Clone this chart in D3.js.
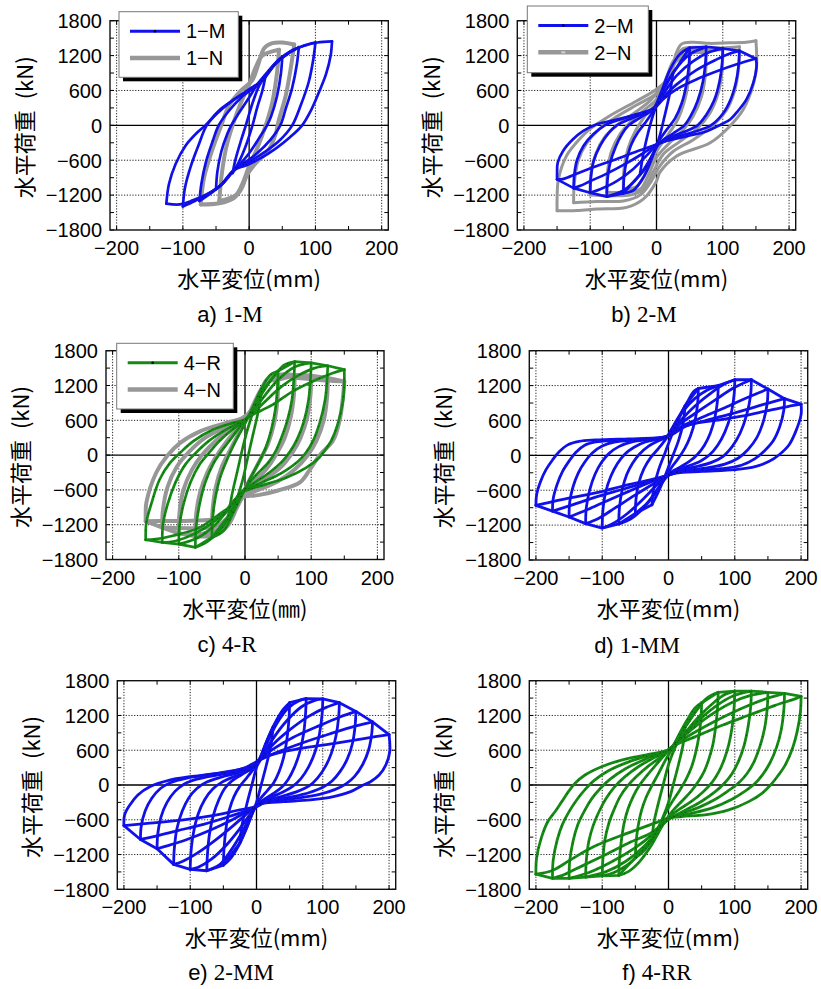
<!DOCTYPE html>
<html><head><meta charset="utf-8">
<script src="https://cdn.jsdelivr.net/npm/d3@7"></script>
<style>body{margin:0;background:#fff}svg{display:block}</style>
</head><body>
<svg id="chart" width="821" height="989"></svg>
<script>
// Axis ticks (shared by all six panels)
const xTicks = [-200, -100, 0, 100, 200];
const yTicks = [-1800, -1200, -600, 0, 600, 1200, 1800];
const xMinorTicks = [-150, -50, 50, 150];
const yMinorTicks = [-1500, -900, -300, 300, 900, 1500];

// Hysteresis loops: each loop runs from the positive peak, through the negative peak, back to the positive peak.
// [displacement (mm), load (kN)]
const loops_1M = [
  [[25,860],[20,600],[12,300],[5,0],[-5,-350],[-15,-620],[-25,-820],[-20,-560],[-12,-250],[-5,0],[5,380],[15,680],[25,860]],
  [[50,1180],[48,900],[42,500],[33,150],[27,0],[15,-220],[0,-480],[-15,-680],[-30,-850],[-40,-1000],[-50,-1100],[-48,-800],[-42,-450],[-33,-150],[-27,0],[-15,220],[0,480],[12,700],[25,880],[38,1050],[50,1180]],
  [[75,1345],[72,1050],[65,650],[55,280],[47,0],[32,-250],[12,-480],[-8,-650],[-23,-770],[-40,-1000],[-58,-1170],[-75,-1300],[-72,-1000],[-65,-620],[-55,-270],[-46,0],[-32,230],[-12,480],[8,660],[22,800],[40,1060],[58,1230],[75,1345]],
  [[100,1425],[97,1150],[90,750],[78,350],[65,0],[45,-270],[22,-470],[0,-630],[-20,-750],[-40,-1000],[-62,-1180],[-82,-1300],[-100,-1395],[-97,-1080],[-88,-700],[-76,-330],[-64,0],[-45,240],[-22,450],[0,620],[18,760],[40,1070],[62,1260],[82,1370],[100,1425]],
  [[125,1445],[123,1200],[116,880],[105,560],[93,250],[80,0],[62,-200],[40,-400],[18,-560],[-5,-690],[-22,-760],[-42,-1020],[-63,-1180],[-85,-1290],[-105,-1360],[-125,-1345],[-121,-1010],[-111,-665],[-96,-350],[-78,-120],[-66,0],[-43,280],[-18,480],[8,650],[22,800],[43,1110],[63,1280],[83,1370],[103,1425],[125,1445]]
];
const loops_1N = [
  [[45,1300],[42,900],[35,400],[25,0],[12,-400],[0,-700],[-10,-1000],[-20,-1200],[-45,-1300],[-42,-900],[-35,-400],[-25,0],[-12,400],[0,700],[10,1000],[20,1200],[45,1300]],
  [[68,1390],[63,1000],[55,500],[45,100],[40,-150],[28,-450],[10,-650],[-3,-850],[-12,-1100],[-23,-1250],[-45,-1340],[-73,-1360],[-68,-900],[-55,-400],[-42,0],[-30,350],[-12,600],[5,780],[13,1020],[23,1330],[35,1415],[50,1425],[68,1390]]
];
const loops_2M = [
  [[25,900],[20,550],[12,150],[3,-250],[-8,-550],[-18,-760],[-25,-850],[-20,-500],[-12,-100],[-3,250],[8,550],[18,780],[25,900]],
  [[50,1335],[49,1050],[45,700],[38,380],[28,120],[15,-80],[2,-300],[-8,-600],[-20,-900],[-35,-1120],[-50,-1170],[-49,-900],[-45,-600],[-38,-330],[-28,-120],[-18,30],[-5,250],[8,600],[20,950],[35,1220],[50,1335]],
  [[75,1350],[74,1100],[70,750],[62,420],[52,170],[42,0],[25,-140],[5,-300],[-8,-550],[-25,-850],[-50,-1120],[-75,-1225],[-74,-950],[-70,-650],[-62,-380],[-52,-150],[-42,0],[-25,130],[-5,280],[10,600],[28,950],[50,1220],[75,1350]],
  [[100,1320],[99,1080],[95,750],[87,430],[75,180],[62,0],[40,-120],[18,-220],[0,-340],[-15,-520],[-35,-750],[-60,-960],[-85,-1100],[-100,-1160],[-99,-900],[-95,-620],[-85,-350],[-72,-130],[-60,0],[-40,110],[-20,200],[-3,300],[10,530],[30,850],[55,1100],[80,1260],[100,1320]],
  [[125,1280],[124,1050],[120,750],[112,450],[100,200],[82,0],[60,-100],[30,-200],[0,-330],[-20,-480],[-45,-650],[-75,-830],[-100,-960],[-115,-1040],[-125,-1080],[-124,-850],[-120,-600],[-110,-350],[-95,-150],[-78,0],[-55,100],[-30,190],[-5,290],[10,480],[30,700],[60,950],[90,1130],[110,1230],[125,1280]],
  [[150,1150],[151,1020],[146,730],[136,450],[123,250],[111,100],[98,20],[76,-100],[46,-185],[15,-270],[0,-330],[-30,-450],[-60,-580],[-90,-700],[-120,-830],[-140,-920],[-150,-930],[-150,-810],[-149,-640],[-141,-440],[-126,-240],[-111,-100],[-91,15],[-60,100],[-30,190],[-5,275],[10,450],[30,620],[60,790],[91,930],[121,1050],[150,1150]]
];
const loops_2N = [
  [[50,1200],[49,850],[43,450],[32,100],[18,-150],[0,-450],[-15,-800],[-30,-1050],[-50,-1100],[-49,-750],[-43,-400],[-32,-100],[-18,150],[0,400],[15,800],[30,1100],[50,1200]],
  [[75,1250],[74,900],[68,500],[55,150],[40,-80],[20,-300],[0,-550],[-12,-850],[-25,-1100],[-50,-1150],[-75,-1150],[-74,-800],[-68,-450],[-55,-150],[-40,50],[-20,250],[0,450],[15,800],[30,1150],[50,1240],[75,1250]],
  [[100,1300],[99,950],[93,550],[80,200],[62,-50],[35,-280],[10,-500],[-5,-800],[-20,-1100],[-40,-1200],[-70,-1210],[-100,-1200],[-99,-850],[-92,-500],[-78,-200],[-60,0],[-35,200],[-10,420],[10,700],[25,1100],[40,1280],[70,1300],[100,1300]],
  [[125,1350],[124,1000],[118,600],[105,250],[85,0],[55,-250],[25,-450],[5,-700],[-10,-1000],[-25,-1200],[-50,-1300],[-90,-1310],[-125,-1330],[-124,-1000],[-118,-600],[-105,-300],[-85,-50],[-60,150],[-30,350],[0,550],[18,800],[30,1150],[40,1320],[70,1340],[100,1330],[125,1350]],
  [[150,1455],[151,1020],[146,700],[131,275],[111,-10],[81,-300],[30,-530],[5,-810],[0,-960],[-20,-1270],[-45,-1410],[-90,-1440],[-120,-1465],[-150,-1470],[-150,-1270],[-148,-930],[-136,-530],[-121,-300],[-101,-70],[-71,160],[-30,420],[0,620],[20,850],[30,1250],[38,1400],[55,1430],[80,1410],[110,1420],[135,1430],[150,1455]]
];
const loops_4R = [
  [[25,1100],[20,750],[12,350],[4,-50],[-4,-450],[-14,-800],[-25,-1050],[-20,-700],[-12,-300],[-4,100],[4,450],[14,800],[25,1100]],
  [[50,1450],[49,1150],[46,800],[40,450],[32,150],[22,-100],[8,-400],[-5,-700],[-18,-1000],[-32,-1300],[-50,-1420],[-49,-1100],[-45,-750],[-38,-400],[-28,-100],[-16,200],[-3,480],[10,780],[25,1150],[38,1380],[50,1450]],
  [[75,1610],[74,1340],[71,960],[64,600],[55,300],[46,60],[35,-130],[18,-330],[3,-530],[-8,-750],[-20,-1000],[-38,-1300],[-58,-1500],[-75,-1590],[-74,-1250],[-69,-870],[-60,-470],[-48,-150],[-36,60],[-20,300],[-5,530],[8,720],[25,1050],[45,1380],[60,1560],[75,1610]],
  [[100,1590],[99,1320],[96,950],[89,580],[79,280],[68,60],[57,-100],[37,-300],[15,-470],[-2,-600],[-12,-720],[-25,-930],[-45,-1200],[-72,-1430],[-100,-1535],[-99,-1220],[-93,-850],[-82,-460],[-68,-150],[-55,30],[-38,250],[-18,450],[0,600],[10,720],[28,1000],[50,1300],[75,1520],[100,1590]],
  [[125,1540],[124,1300],[121,950],[113,560],[103,250],[92,40],[80,-110],[55,-310],[28,-460],[5,-580],[-8,-680],[-22,-880],[-45,-1130],[-75,-1350],[-105,-1480],[-125,-1505],[-124,-1200],[-117,-850],[-105,-470],[-90,-160],[-75,30],[-55,240],[-30,430],[-10,550],[0,610],[10,700],[30,920],[55,1180],[80,1370],[105,1500],[125,1540]],
  [[150,1473],[150,1270],[148,930],[140,530],[130,240],[120,70],[112,-45],[92,-220],[62,-390],[32,-500],[7,-590],[-5,-640],[-19,-850],[-39,-1020],[-69,-1250],[-109,-1390],[-135,-1450],[-150,-1460],[-149,-1160],[-141,-820],[-129,-420],[-113,-130],[-98,40],[-78,240],[-48,440],[-18,556],[0,613],[12,700],[42,870],[72,1100],[102,1270],[133,1415],[150,1473]]
];
const loops_4N = [
  [[50,1300],[49,950],[44,550],[35,200],[22,-100],[8,-400],[-5,-700],[-18,-1000],[-32,-1250],[-50,-1300],[-49,-950],[-44,-550],[-35,-200],[-22,100],[-8,400],[5,680],[18,1000],[32,1250],[50,1300]],
  [[75,1380],[74,1050],[69,650],[60,300],[49,50],[35,-200],[15,-450],[0,-650],[-12,-900],[-25,-1200],[-45,-1380],[-75,-1400],[-74,-1050],[-68,-650],[-57,-300],[-45,-50],[-28,230],[-10,480],[5,680],[18,950],[32,1250],[50,1380],[75,1380]],
  [[100,1370],[99,1050],[94,650],[84,300],[72,50],[55,-200],[30,-420],[5,-620],[-10,-800],[-22,-1050],[-38,-1280],[-65,-1360],[-100,-1350],[-99,-1000],[-93,-600],[-80,-250],[-65,0],[-42,270],[-18,480],[0,620],[12,800],[25,1100],[40,1320],[70,1380],[100,1370]],
  [[125,1330],[124,1000],[119,600],[108,250],[95,0],[75,-250],[50,-450],[20,-600],[0,-700],[-15,-850],[-28,-1100],[-45,-1230],[-80,-1260],[-125,-1250],[-124,-950],[-117,-550],[-103,-200],[-85,50],[-60,300],[-30,480],[-5,620],[10,780],[22,1050],[35,1300],[60,1360],[95,1340],[125,1330]],
  [[150,1270],[148,1000],[143,600],[133,250],[113,0],[98,-250],[83,-470],[50,-610],[20,-690],[-5,-720],[-18,-800],[-30,-1000],[-45,-1100],[-80,-1130],[-120,-1135],[-150,-1140],[-150,-1000],[-149,-820],[-134,-300],[-118,-20],[-98,210],[-68,410],[-28,555],[-4,640],[10,760],[22,1050],[33,1300],[50,1370],[80,1330],[110,1300],[130,1280],[150,1270]]
];
const loops_1MM = [
  [[25,850],[22,550],[15,250],[5,-50],[-5,-350],[-15,-620],[-25,-850],[-22,-550],[-15,-250],[-5,50],[5,350],[15,620],[25,850]],
  [[45,1150],[44,900],[40,600],[33,330],[25,130],[15,-50],[5,-200],[-5,-380],[-18,-600],[-32,-820],[-50,-1000],[-49,-750],[-45,-480],[-37,-230],[-27,-40],[-15,120],[-3,300],[8,520],[20,750],[30,950],[38,1100],[45,1150]],
  [[75,1200],[74,950],[70,650],[63,380],[54,170],[44,20],[32,-100],[18,-200],[5,-290],[-5,-400],[-18,-620],[-35,-870],[-55,-1080],[-75,-1180],[-74,-900],[-70,-600],[-63,-330],[-54,-130],[-44,20],[-30,160],[-15,250],[-2,320],[8,500],[22,760],[40,980],[58,1120],[75,1200]],
  [[100,1300],[99,1050],[94,700],[85,400],[74,170],[62,10],[48,-100],[28,-190],[8,-260],[0,-330],[-15,-480],[-38,-750],[-62,-1000],[-85,-1180],[-100,-1250],[-99,-950],[-95,-640],[-87,-360],[-77,-140],[-66,20],[-52,140],[-35,230],[-15,280],[0,330],[5,420],[20,620],[40,850],[65,1080],[85,1230],[100,1300]],
  [[125,1300],[124,1050],[118,700],[108,380],[96,150],[82,-20],[65,-120],[40,-200],[15,-260],[0,-340],[-20,-470],[-50,-680],[-80,-900],[-105,-1080],[-125,-1175],[-124,-900],[-119,-600],[-111,-330],[-101,-120],[-90,30],[-75,150],[-55,230],[-30,270],[-8,300],[2,360],[15,520],[40,720],[70,950],[100,1170],[125,1300]],
  [[150,1140],[149,900],[143,580],[133,300],[120,100],[105,-50],[85,-150],[55,-220],[20,-270],[0,-340],[-25,-450],[-60,-620],[-100,-820],[-130,-970],[-150,-1060],[-149,-800],[-144,-540],[-136,-300],[-126,-110],[-115,40],[-100,160],[-80,230],[-50,260],[-20,290],[0,340],[20,500],[50,650],[85,820],[120,1000],[150,1140]],
  [[175,975],[174,780],[168,500],[158,250],[145,80],[130,-60],[110,-170],[80,-230],[40,-260],[10,-300],[0,-340],[-25,-430],[-65,-570],[-110,-720],[-150,-870],[-175,-960],[-174,-750],[-168,-500],[-160,-280],[-150,-100],[-140,50],[-127,170],[-110,230],[-80,260],[-40,280],[-10,300],[0,340],[20,480],[50,580],[90,700],[130,830],[160,930],[175,975]],
  [[200,880],[200,700],[192,412],[182,183],[167,11],[152,-103],[132,-189],[101,-246],[51,-275],[11,-304],[0,-340],[-20,-400],[-60,-504],[-110,-647],[-161,-762],[-200,-860],[-199,-676],[-193,-450],[-185,-250],[-175,-80],[-165,60],[-152,180],[-135,240],[-110,265],[-60,285],[-20,300],[0,330],[30,520],[71,600],[113,680],[150,770],[180,840],[200,880]]
];
const loops_2MM = [
  [[25,1000],[22,700],[15,350],[7,0],[0,-300],[-10,-600],[-25,-1000],[-22,-700],[-15,-350],[-7,0],[0,300],[10,600],[25,1000]],
  [[50,1420],[49,1150],[46,800],[41,480],[34,230],[26,40],[16,-100],[5,-250],[-5,-450],[-15,-750],[-27,-1050],[-40,-1280],[-50,-1384],[-49,-1100],[-46,-750],[-41,-430],[-34,-200],[-25,-20],[-15,120],[-5,270],[5,450],[15,750],[27,1050],[40,1300],[50,1420]],
  [[75,1490],[74,1230],[71,880],[65,560],[57,300],[48,100],[38,-40],[25,-150],[10,-260],[0,-350],[-10,-550],[-22,-820],[-38,-1120],[-55,-1370],[-75,-1480],[-74,-1200],[-71,-850],[-65,-520],[-57,-260],[-48,-60],[-37,70],[-22,180],[-8,290],[3,420],[15,700],[30,1050],[48,1330],[65,1460],[75,1490]],
  [[100,1485],[99,1230],[95,880],[88,560],[78,300],[67,110],[55,-20],[40,-120],[20,-220],[5,-320],[-8,-480],[-25,-750],[-45,-1030],[-68,-1280],[-88,-1420],[-100,-1456],[-99,-1180],[-95,-820],[-88,-500],[-78,-250],[-66,-70],[-52,50],[-35,140],[-15,230],[0,330],[10,520],[25,800],[45,1100],[68,1350],[88,1460],[100,1485]],
  [[125,1420],[124,1180],[120,850],[113,550],[103,300],[92,120],[80,-10],[62,-110],[40,-190],[15,-270],[0,-350],[-12,-470],[-35,-700],[-62,-950],[-90,-1180],[-112,-1320],[-125,-1370],[-124,-1100],[-120,-750],[-112,-450],[-102,-220],[-90,-60],[-75,50],[-52,140],[-25,220],[-5,320],[8,480],[25,700],[50,950],[78,1180],[105,1340],[125,1420]],
  [[150,1270],[149,1050],[145,730],[137,450],[126,230],[114,70],[100,-40],[80,-130],[55,-200],[25,-260],[5,-330],[-8,-420],[-35,-590],[-70,-780],[-105,-940],[-135,-1050],[-150,-1100],[-149,-850],[-144,-550],[-135,-300],[-123,-110],[-110,10],[-90,100],[-60,170],[-30,230],[-8,320],[5,450],[25,620],[55,820],[90,1000],[125,1170],[150,1270]],
  [[175,1090],[174,900],[169,600],[160,350],[148,150],[135,20],[118,-80],[95,-160],[65,-220],[30,-270],[5,-330],[-5,-400],[-40,-540],[-80,-680],[-120,-790],[-155,-890],[-175,-940],[-174,-720],[-168,-450],[-158,-230],[-145,-60],[-130,40],[-105,120],[-70,180],[-35,240],[-8,330],[5,430],[30,560],[70,730],[110,880],[150,1020],[175,1090]],
  [[200,870],[201,573],[195,344],[185,172],[172,57],[159,-11],[142,-115],[116,-200],[81,-258],[41,-287],[11,-315],[0,-372],[-30,-440],[-60,-516],[-110,-602],[-161,-659],[-200,-700],[-199,-516],[-191,-344],[-179,-172],[-161,-29],[-131,86],[-100,143],[-60,200],[-20,287],[-5,372],[21,516],[66,630],[116,716],[162,802],[200,870]]
];
const loops_4RR = [
  [[25,1000],[22,700],[15,350],[7,0],[0,-300],[-10,-600],[-25,-950],[-22,-650],[-15,-300],[-7,50],[0,350],[10,650],[25,1000]],
  [[50,1420],[49,1150],[46,850],[41,560],[35,320],[27,110],[17,-90],[5,-300],[-5,-500],[-15,-750],[-28,-1000],[-40,-1170],[-50,-1250],[-49,-1000],[-46,-720],[-41,-450],[-34,-220],[-25,-10],[-15,200],[-5,420],[5,620],[15,850],[27,1100],[40,1330],[50,1420]],
  [[75,1600],[74,1330],[71,990],[67,700],[61,450],[54,240],[45,60],[34,-110],[20,-280],[6,-450],[-5,-620],[-15,-820],[-28,-1080],[-45,-1340],[-60,-1490],[-75,-1560],[-74,-1280],[-71,-950],[-67,-660],[-61,-410],[-53,-190],[-44,-10],[-32,170],[-18,360],[-5,530],[5,650],[15,820],[28,1050],[43,1300],[58,1500],[75,1600]],
  [[100,1620],[99,1350],[96,1000],[91,700],[84,440],[76,230],[66,50],[52,-120],[35,-280],[15,-430],[0,-560],[-10,-700],[-22,-900],[-40,-1150],[-62,-1380],[-82,-1510],[-100,-1570],[-99,-1280],[-96,-950],[-90,-660],[-82,-420],[-73,-200],[-62,-20],[-48,150],[-30,330],[-12,480],[0,590],[10,700],[25,900],[45,1170],[68,1420],[85,1560],[100,1620]],
  [[125,1620],[124,1350],[120,1000],[114,680],[106,420],[96,200],[85,40],[70,-120],[50,-280],[28,-420],[8,-540],[-5,-640],[-18,-820],[-38,-1070],[-65,-1320],[-95,-1500],[-125,-1590],[-124,-1300],[-120,-960],[-113,-680],[-104,-440],[-94,-230],[-82,-40],[-66,140],[-45,320],[-22,470],[-5,570],[5,650],[20,820],[42,1080],[70,1350],[98,1540],[125,1620]],
  [[150,1600],[149,1330],[145,980],[138,670],[129,400],[118,190],[106,40],[90,-100],[70,-250],[45,-390],[18,-500],[2,-570],[-10,-690],[-25,-860],[-50,-1080],[-85,-1320],[-120,-1510],[-150,-1610],[-149,-1310],[-144,-970],[-137,-690],[-127,-450],[-116,-240],[-103,-60],[-88,100],[-65,280],[-40,420],[-15,540],[0,605],[12,740],[32,930],[60,1180],[95,1420],[125,1550],[150,1600]],
  [[175,1580],[174,1300],[170,950],[163,650],[153,380],[142,180],[130,20],[115,-110],[95,-250],[65,-400],[30,-500],[5,-560],[-8,-660],[-25,-820],[-60,-1000],[-100,-1230],[-140,-1450],[-160,-1560],[-175,-1610],[-174,-1300],[-168,-950],[-160,-680],[-150,-460],[-138,-250],[-126,-80],[-112,80],[-90,250],[-60,400],[-28,510],[-8,570],[0,610],[12,720],[35,880],[70,1100],[110,1320],[145,1480],[175,1580]],
  [[200,1530],[199,1260],[194,917],[187,630],[176,344],[164,143],[154,0],[141,-143],[121,-287],[91,-430],[55,-516],[20,-544],[0,-573],[-23,-667],[-64,-840],[-114,-1070],[-149,-1300],[-175,-1475],[-200,-1540],[-199,-1260],[-192,-917],[-182,-630],[-171,-458],[-161,-287],[-151,-115],[-141,29],[-126,172],[-101,315],[-71,430],[-35,516],[-10,573],[0,602],[10,688],[40,831],[81,1031],[121,1203],[161,1375],[192,1490],[200,1530]]
];

// Skeleton paths joining successive peaks (first excursion to each new amplitude): [positive side, negative side]
const env_2M = [[[25,900],[50,1335],[75,1352],[100,1322],[125,1282],[150,1146]], [[-25,-850],[-50,-1170],[-75,-1225],[-100,-1160],[-125,-1080],[-150,-930]]];
const env_4R = [[[25,1100],[50,1450],[75,1610],[100,1590],[125,1540],[150,1473]], [[-25,-1050],[-50,-1420],[-75,-1590],[-100,-1535],[-125,-1505],[-150,-1460]]];
const env_4N = [[[50,1300],[75,1380],[100,1370],[125,1330],[150,1270]], [[-50,-1300],[-75,-1400],[-100,-1350],[-125,-1250],[-150,-1140]]];
const env_1MM = [[[25,850],[45,1150],[75,1200],[100,1300],[125,1300],[150,1140],[175,975],[200,880]], [[-25,-850],[-50,-1000],[-75,-1180],[-100,-1250],[-125,-1175],[-150,-1060],[-175,-960],[-200,-860]]];
const env_2MM = [[[25,1000],[50,1420],[75,1490],[100,1485],[125,1420],[150,1270],[175,1090],[200,870]], [[-25,-1000],[-50,-1384],[-75,-1480],[-100,-1456],[-125,-1370],[-150,-1100],[-175,-940],[-200,-700]]];
const env_4RR = [[[25,1000],[50,1420],[75,1600],[100,1620],[125,1620],[150,1600],[175,1580],[200,1530]], [[-25,-950],[-50,-1250],[-75,-1560],[-100,-1570],[-125,-1590],[-150,-1610],[-175,-1610],[-200,-1540]]];

// Panel captions and legend names
const captionTags = ['a)', 'b)', 'c)', 'd)', 'e)', 'f)'];
const captionNames = ['1-M', '2-M', '4-R', '1-MM', '2-MM', '4-RR'];
const legendNames = [['1−M', '1−N'], ['2−M', '2−N'], ['4−R', '4−N'], null, null, null];

const BLUE = '#1111ee', GREEN = '#148a14', GRAY = '#979797';
const SANS = '"Liberation Sans", Arial, sans-serif';
const SERIF = '"Liberation Serif", "Times New Roman", serif';
const CJK = '"Noto Sans CJK JP", "Noto Sans CJK SC", sans-serif';

const panels = [
  {box:[110, 20.7, 388.3, 230], cap:[230, 322], unit:'(mm)',
   series:[{loops:loops_1N, color:GRAY, w:4}, {loops:loops_1M, color:BLUE, w:2.7, marks:true}],
   legend:{x:119, y:11.7, w:119.3, h:65.6, items:[{color:BLUE, w:3, mark:'dot'}, {color:GRAY, w:4.5, mark:null}]}},
  {box:[517.3, 20.7, 795.7, 230], cap:[644, 322], unit:'(mm)',
   series:[{loops:loops_2N, color:GRAY, w:3}, {loops:loops_2M, env:env_2M, color:BLUE, w:2.7, marks:true}],
   legend:{x:527.3, y:6, w:121, h:66.7, items:[{color:BLUE, w:3, mark:'dot'}, {color:GRAY, w:4.5, mark:'dash'}]}},
  {box:[106, 350.7, 384, 559.5], cap:[227, 652], unit:'(㎜)',
   series:[{loops:loops_4N, env:env_4N, color:GRAY, w:4}, {loops:loops_4R, env:env_4R, color:GREEN, w:2.7, marks:true}],
   legend:{x:116.7, y:343.3, w:116.6, h:65.7, items:[{color:GREEN, w:3, mark:'dot'}, {color:GRAY, w:4.5, mark:null}]}},
  {box:[529.3, 350.7, 807.7, 560], cap:[637, 653], unit:'(mm)',
   series:[{loops:loops_1MM, env:env_1MM, color:BLUE, w:2.8, marks:true}], legend:null},
  {box:[117.3, 680.7, 395.7, 889.3], cap:[231, 980], unit:'(mm)',
   series:[{loops:loops_2MM, env:env_2MM, color:BLUE, w:2.8, marks:true}], legend:null},
  {box:[529.3, 680.7, 807.7, 889.3], cap:[657, 980], unit:'(mm)',
   series:[{loops:loops_4RR, env:env_4RR, color:GREEN, w:2.8, marks:true}], legend:null}
];

const fmt = v => v < 0 ? '−' + Math.abs(v) : String(v);

// Split a closed loop at its negative peak into two open branches so the peaks stay sharp
function splitLoop(pts) {
  let k = 0;
  pts.forEach((p, i) => { if (p[0] < pts[k][0]) k = i; });
  return [pts.slice(0, k + 1), pts.slice(k)];
}

const svg = d3.select('#chart');
const defs = svg.append('defs');

panels.forEach((p, pi) => {
  const [l, t, r, b] = p.box;
  const xs = d3.scaleLinear().domain([-210, 210]).range([l, r]);
  const ys = d3.scaleLinear().domain([-1800, 1800]).range([b, t]);
  const g = svg.append('g');

  defs.append('clipPath').attr('id', 'clip' + pi)
    .append('rect').attr('x', l).attr('y', t).attr('width', r - l).attr('height', b - t);

  // dotted grid
  g.selectAll(null).data(xTicks.filter(v => v !== 0)).join('line')
    .attr('x1', d => xs(d)).attr('x2', d => xs(d)).attr('y1', t).attr('y2', b)
    .attr('stroke', '#222').attr('stroke-width', 1).attr('stroke-dasharray', '1.2,1.6');
  g.selectAll(null).data(yTicks.filter(v => v !== 0 && Math.abs(v) < 1800)).join('line')
    .attr('x1', l).attr('x2', r).attr('y1', d => ys(d)).attr('y2', d => ys(d))
    .attr('stroke', '#222').attr('stroke-width', 1).attr('stroke-dasharray', '1.2,1.6');
  // zero axes
  g.append('line').attr('x1', xs(0)).attr('x2', xs(0)).attr('y1', t).attr('y2', b)
    .attr('stroke', '#000').attr('stroke-width', 1.3);
  g.append('line').attr('x1', l).attr('x2', r).attr('y1', ys(0)).attr('y2', ys(0))
    .attr('stroke', '#000').attr('stroke-width', 1.3);

  // inward ticks on all four sides
  const allX = xTicks.concat(xMinorTicks), allY = yTicks.concat(yMinorTicks);
  const tk = 4;
  g.selectAll(null).data(allX).join('line')
    .attr('x1', d => xs(d)).attr('x2', d => xs(d)).attr('y1', b).attr('y2', b - tk)
    .attr('stroke', '#000').attr('stroke-width', 1);
  g.selectAll(null).data(allX).join('line')
    .attr('x1', d => xs(d)).attr('x2', d => xs(d)).attr('y1', t).attr('y2', t + tk)
    .attr('stroke', '#000').attr('stroke-width', 1);
  g.selectAll(null).data(allY).join('line')
    .attr('x1', l).attr('x2', l + tk).attr('y1', d => ys(d)).attr('y2', d => ys(d))
    .attr('stroke', '#000').attr('stroke-width', 1);
  g.selectAll(null).data(allY).join('line')
    .attr('x1', r).attr('x2', r - tk).attr('y1', d => ys(d)).attr('y2', d => ys(d))
    .attr('stroke', '#000').attr('stroke-width', 1);

  // hysteresis curves
  const curve = d3.line().x(d => xs(d[0])).y(d => ys(d[1])).curve(d3.curveCatmullRom.alpha(0.5));
  const straight = d3.line().x(d => xs(d[0])).y(d => ys(d[1]));
  const plot = g.append('g').attr('clip-path', `url(#clip${pi})`);
  p.series.forEach(s => {
    const branches = [];
    s.loops.forEach(lp => splitLoop(lp).forEach(br => branches.push(br)));
    const sg = plot.append('g').attr('fill', 'none').attr('stroke', s.color)
      .attr('stroke-width', s.w).attr('stroke-linejoin', 'round').attr('stroke-linecap', 'round');
    sg.selectAll(null).data(branches).join('path').attr('d', curve);
    if (s.env) sg.selectAll(null).data(s.env).join('path').attr('d', straight);
    // small dark sample markers along the measured curves
    if (s.marks) {
      const mg = plot.append('g').attr('fill', 'none').attr('stroke', '#000').attr('stroke-opacity', 0.45)
        .attr('stroke-width', 1.1).attr('stroke-dasharray', '0.8,8');
      mg.selectAll(null).data(branches).join('path').attr('d', curve);
    }
  });

  // frame
  g.append('rect').attr('x', l).attr('y', t).attr('width', r - l).attr('height', b - t)
    .attr('fill', 'none').attr('stroke', '#111').attr('stroke-width', 1.4);

  // tick labels
  g.selectAll(null).data(yTicks).join('text')
    .attr('x', l - 8).attr('y', d => ys(d) + 7.3).attr('text-anchor', 'end')
    .attr('font-family', SANS).attr('font-size', 20).text(fmt);
  g.selectAll(null).data(xTicks).join('text')
    .attr('x', d => xs(d)).attr('y', b + 25).attr('text-anchor', 'middle')
    .attr('font-family', SANS).attr('font-size', 20).text(fmt);

  // axis titles
  g.append('text').attr('x', xs(0)).attr('y', b + 57).attr('text-anchor', 'middle')
    .attr('font-family', CJK).attr('font-size', 22).text('水平変位' + p.unit);
  const my = (t + b) / 2 + 2;
  g.append('text').attr('transform', `translate(${l - 85},${my}) rotate(-90)`)
    .attr('text-anchor', 'middle').attr('dy', '0.36em')
    .attr('font-family', CJK).attr('font-size', 22).text('水平荷重\u2002(kN)');

  // caption
  const cap = g.append('text').attr('x', p.cap[0]).attr('y', p.cap[1]).attr('text-anchor', 'middle')
    .attr('font-size', 23);
  cap.append('tspan').attr('font-family', SANS).attr('font-size', 22).text(captionTags[pi] + ' ');
  cap.append('tspan').attr('font-family', SERIF).text(captionNames[pi]);

  // legend
  if (p.legend) {
    const L = p.legend;
    const lg = g.append('g');
    lg.append('rect').attr('x', L.x + 4).attr('y', L.y + 4).attr('width', L.w).attr('height', L.h).attr('fill', '#000');
    lg.append('rect').attr('x', L.x).attr('y', L.y).attr('width', L.w).attr('height', L.h)
      .attr('fill', '#fff').attr('stroke', '#777').attr('stroke-width', 1);
    const rows = [19.5, 46.3];
    L.items.forEach((it, i) => {
      const yy = L.y + rows[i];
      lg.append('line').attr('x1', L.x + 11).attr('x2', L.x + 61).attr('y1', yy).attr('y2', yy)
        .attr('stroke', it.color).attr('stroke-width', it.w);
      if (it.mark === 'dot') lg.append('circle').attr('cx', L.x + 36).attr('cy', yy).attr('r', 1.3).attr('fill', '#000');
      if (it.mark === 'dash') lg.append('line').attr('x1', L.x + 34).attr('x2', L.x + 38).attr('y1', yy).attr('y2', yy)
        .attr('stroke', '#d0d0d0').attr('stroke-width', 2);
      lg.append('text').attr('x', L.x + 67).attr('y', yy + 7.2).attr('font-family', SANS).attr('font-size', 20)
        .text(legendNames[pi][i]);
    });
  }
});
</script>
</body></html>
